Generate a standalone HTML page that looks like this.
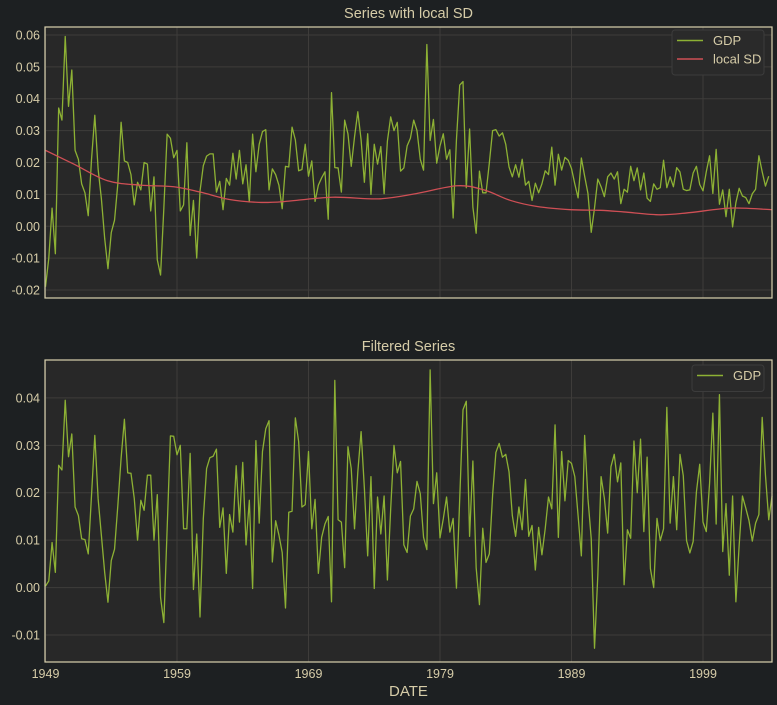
<!DOCTYPE html>
<html><head><meta charset="utf-8">
<style>
html,body{margin:0;padding:0;background:#1d2022;}
svg{display:block;font-family:"Liberation Sans",sans-serif;}
</style></head>
<body>
<svg id="chart" width="777" height="705" viewBox="0 0 777 705" xmlns="http://www.w3.org/2000/svg">
<rect width="777" height="705" fill="#1d2022"/>
</svg>
<script>
const topGDP = [-0.019,-0.010,0.0057,-0.0086,0.0371,0.0333,0.0595,0.0376,0.049,0.0238,0.021,0.0133,0.0105,0.0033,0.021,0.0348,0.018,0.0086,-0.0038,-0.0133,-0.002,0.0019,0.0133,0.0326,0.0205,0.020,0.0162,0.0067,0.0138,0.0114,0.020,0.0195,0.0048,0.0155,-0.0105,-0.0153,0.0057,0.0289,0.0276,0.0215,0.0238,0.0048,0.0067,0.0262,-0.0029,0.0081,-0.010,0.011,0.019,0.022,0.0227,0.0227,0.0107,0.0141,0.0052,0.015,
0.0129,0.0229,0.0148,0.0238,0.0133,0.0193,0.0076,0.0289,0.0171,0.0257,0.0297,0.0303,0.0114,0.018,0.0162,0.0129,0.0055,0.0188,0.0186,0.0311,0.0271,0.0174,0.0178,0.0257,0.0157,0.0205,0.0078,0.0129,0.0152,0.0171,0.0022,0.0419,0.0184,0.0183,0.0107,0.0333,0.029,0.0188,0.028,0.0359,0.0271,0.0138,0.029,0.010,0.0257,0.0195,0.025,0.0102,0.0267,0.0343,0.03,0.0326,0.0173,0.0183,0.0252,
0.0276,0.0333,0.03,0.021,0.0176,0.057,0.0269,0.0335,0.0198,0.0252,0.029,0.021,0.024,0.0026,0.0271,0.0443,0.0454,0.0121,0.0305,0.006,-0.0022,0.0173,0.0105,0.0105,0.0198,0.03,0.0303,0.0283,0.0293,0.0257,0.0186,0.0155,0.0193,0.0154,0.021,0.0129,0.0141,0.0081,0.0135,0.0105,0.0133,0.0174,0.0162,0.0248,0.0129,0.0226,0.0176,0.0216,0.0207,0.0181,0.0133,0.0089,0.0214,0.0157,0.0103,-0.0019,0.0057,
0.0148,0.0124,0.0093,0.0155,0.0167,0.0148,0.0171,0.0071,0.0116,0.0107,0.0188,0.0143,0.0183,0.0114,0.0167,0.0088,0.0078,0.0133,0.0116,0.0121,0.0207,0.0121,0.0155,0.0124,0.0184,0.017,0.0116,0.0112,0.0114,0.0167,0.0188,0.0131,0.0111,0.0171,0.0221,0.0103,0.0241,0.0069,0.0114,0.003,0.0116,-0.0002,0.0074,0.0119,0.0095,0.009,0.0071,0.0102,0.0116,0.0221,0.0171,0.0126,0.0157];
const filteredGDP = [0.0003,0.0014,0.0095,0.0032,0.0258,0.0248,0.0395,0.0276,0.0324,0.017,0.0152,0.0103,0.0101,0.0071,0.0195,0.0321,0.0188,0.011,0.0032,-0.0031,0.0057,0.0081,0.0173,0.0273,0.0355,0.0242,0.0241,0.0188,0.01,0.0184,0.0163,0.0237,0.0237,0.01,0.0196,-0.0021,-0.0074,0.0124,0.032,0.0319,0.028,0.03,0.0124,0.0124,0.0283,-0.0004,0.0113,-0.0062,0.0145,0.0251,0.0274,0.0277,0.0292,0.0127,0.0168,0.003,0.0154,
0.0117,0.0257,0.0138,0.0264,0.009,0.0184,-0.0002,0.031,0.0136,0.0287,0.0335,0.0352,0.0054,0.0141,0.0111,0.0074,-0.0043,0.0159,0.0161,0.0358,0.0308,0.017,0.0175,0.0287,0.0124,0.0186,0.003,0.0106,0.0134,0.015,-0.003,0.0437,0.0143,0.0138,0.0042,0.0297,0.0251,0.0124,0.0244,0.0329,0.0209,0.0067,0.0234,-0.0002,0.0191,0.0113,0.0193,0.0016,0.0166,0.03,0.0242,0.0266,0.009,0.0074,0.0151,
0.0166,0.0224,0.0198,0.0106,0.008,0.0459,0.0177,0.0242,0.0105,0.0145,0.0191,0.0117,0.0146,-0.0001,0.0188,0.0375,0.0393,0.0108,0.0267,0.0042,-0.0036,0.0125,0.0053,0.0071,0.0195,0.0285,0.0304,0.0275,0.0281,0.0244,0.0152,0.0108,0.017,0.0122,0.0228,0.0108,0.0131,0.0037,0.0127,0.0069,0.0124,0.0191,0.0166,0.0343,0.0106,0.0287,0.0183,0.0268,0.0262,0.0234,0.0152,0.0067,0.0321,0.0188,0.0103,-0.0128,0.0025,
0.0234,0.0188,0.0115,0.0255,0.0281,0.0223,0.0263,0.0006,0.0122,0.0104,0.0309,0.02,0.0313,0.0118,0.0275,0.004,0.0,0.0146,0.0099,0.0124,0.038,0.0136,0.0234,0.0122,0.0281,0.0236,0.0099,0.0073,0.0097,0.0202,0.026,0.0138,0.0118,0.022,0.0368,0.0134,0.0407,0.0076,0.0177,0.0026,0.0193,-0.003,0.0089,0.0193,0.0168,0.0141,0.0098,0.0136,0.0154,0.0359,0.0237,0.0143,0.0193];
const sdYears = [1949,1951.15,1953.69,1956.22,1958.76,1960.79,1962.99,1965.22,1967.0,1970.8,1974.35,1977.14,1980.3,1982.34,1984.36,1986.39,1988.92,1991.2,1992.97,1995.76,1998.04,2001.08,2004.25];
const sdValues = [0.0238,0.0195,0.0143,0.0129,0.0124,0.0107,0.0084,0.0075,0.0077,0.0091,0.0086,0.0102,0.0127,0.0114,0.0081,0.0062,0.0052,0.0050,0.0045,0.0036,0.0043,0.0057,0.0052];
const xTickYears = [1949,1959,1969,1979,1989,1999];
const topTicks = [0.06,0.05,0.04,0.03,0.02,0.01,0.00,-0.01,-0.02];
const botTicks = [0.04,0.03,0.02,0.01,0.00,-0.01];

const NS="http://www.w3.org/2000/svg";
const svg=document.getElementById('chart');
const L=45,R=772;
const yr0=1949, yr1=2004.25;
const xYear=y=>45.5+(y-yr0)*13.15;
const xIdx=i=>xYear(yr0+i/4);
function mk(tag,attrs,parent){const e=document.createElementNS(NS,tag);for(const k in attrs)e.setAttribute(k,attrs[k]);(parent||svg).appendChild(e);return e;}
const TXT="#d6cca8", GRID="#3e3c3a", BORDER="#d9d1ae";

function panel(name,top,bot,dmax,dmin,ticks,fmt,title){
  const g=mk('g',{});
  
  
  const ys=v=>top+(dmax-v)/(dmax-dmin)*(bot-top);
  const bg=mk('rect',{x:L,y:top,width:R-L,height:bot-top,fill:'#282828'},g);
  
  
  ticks.forEach(t=>{
    const gl=mk('line',{x1:L,x2:R,y1:ys(t),y2:ys(t),stroke:GRID,'stroke-width':1},g);
    
    
    const tl=mk('text',{x:L-5,y:ys(t)+4.5,'text-anchor':'end','font-size':12.5,fill:TXT},g);
    
    
    tl.textContent=fmt(t);
  });
  xTickYears.forEach(y=>{
    const gl=mk('line',{x1:xYear(y),x2:xYear(y),y1:top,y2:bot,stroke:GRID,'stroke-width':1},g);
    
    
  });
  const tt=mk('text',{x:(L+R)/2,y:top-9,'text-anchor':'middle','font-size':14.5,fill:TXT},g);
  
  
  tt.textContent=title;
  return {g,ys};
}
const fmtTick=t=>t.toFixed(2);

const P1=panel('top',27,298,0.0625,-0.0225,topTicks,fmtTick,'Series with local SD');
let d=topGDP.map((v,i)=>(i?'L':'M')+xIdx(i).toFixed(2)+','+P1.ys(v).toFixed(2)).join('');
const l1=mk('path',{d:d,fill:'none',stroke:'#8db134','stroke-width':1.3,'stroke-linejoin':'round'},P1.g);


(function(){
  const pts=sdYears.map((y,i)=>[xYear(y),P1.ys(sdValues[i])]);
  let s='M'+pts[0][0]+','+pts[0][1];
  for(let i=0;i<pts.length-1;i++){
    const p0=pts[Math.max(0,i-1)],p1=pts[i],p2=pts[i+1],p3=pts[Math.min(pts.length-1,i+2)];
    const c1=[p1[0]+(p2[0]-p0[0])/6,p1[1]+(p2[1]-p0[1])/6];
    const c2=[p2[0]-(p3[0]-p1[0])/6,p2[1]-(p3[1]-p1[1])/6];
    s+='C'+c1[0].toFixed(2)+','+c1[1].toFixed(2)+' '+c2[0].toFixed(2)+','+c2[1].toFixed(2)+' '+p2[0].toFixed(2)+','+p2[1].toFixed(2);
  }
  const l2=mk('path',{d:s,fill:'none',stroke:'#cf4f55','stroke-width':1.3},P1.g);
  
  
})();
const b1=mk('rect',{x:L,y:27,width:R-L,height:271,fill:'none',stroke:BORDER,'stroke-width':1.2},P1.g);



const P2=panel('bottom',360,662,0.048,-0.0157,botTicks,fmtTick,'Filtered Series');
d=filteredGDP.map((v,i)=>(i?'L':'M')+xIdx(i).toFixed(2)+','+P2.ys(v).toFixed(2)).join('');
const l3=mk('path',{d:d,fill:'none',stroke:'#8db134','stroke-width':1.3,'stroke-linejoin':'round'},P2.g);


const b2=mk('rect',{x:L,y:360,width:R-L,height:302,fill:'none',stroke:BORDER,'stroke-width':1.2},P2.g);



xTickYears.forEach(y=>{
  const t=mk('text',{x:xYear(y),y:678,'text-anchor':'middle','font-size':12.5,fill:TXT});
  
  
  t.textContent=y;
});
const xl=mk('text',{x:(L+R)/2,y:696,'text-anchor':'middle','font-size':15,fill:TXT});


xl.textContent='DATE';

function legend(name,x,y,w,items){
  const g=mk('g',{});
  
  
  mk('rect',{x:x,y:y,width:w,height:8+items.length*18.5,rx:3,fill:'#2a2a2a',stroke:'#3c3c3c','stroke-width':1},g);
  items.forEach((it,i)=>{
    const e=mk('g',{},g);
    
    
    const cy=y+10.5+i*18.5;
    mk('line',{x1:x+5,x2:x+31,y1:cy,y2:cy,stroke:it[1],'stroke-width':1.5},e);
    const t=mk('text',{x:x+41,y:cy+4.5,'font-size':13,fill:TXT},e);
    t.textContent=it[0];
  });
}
legend('top-legend',672,30,92,[['GDP','#8db134'],['local SD','#cf4f55']]);
legend('bottom-legend',692,365,72,[['GDP','#8db134']]);
</script>
</body></html>
